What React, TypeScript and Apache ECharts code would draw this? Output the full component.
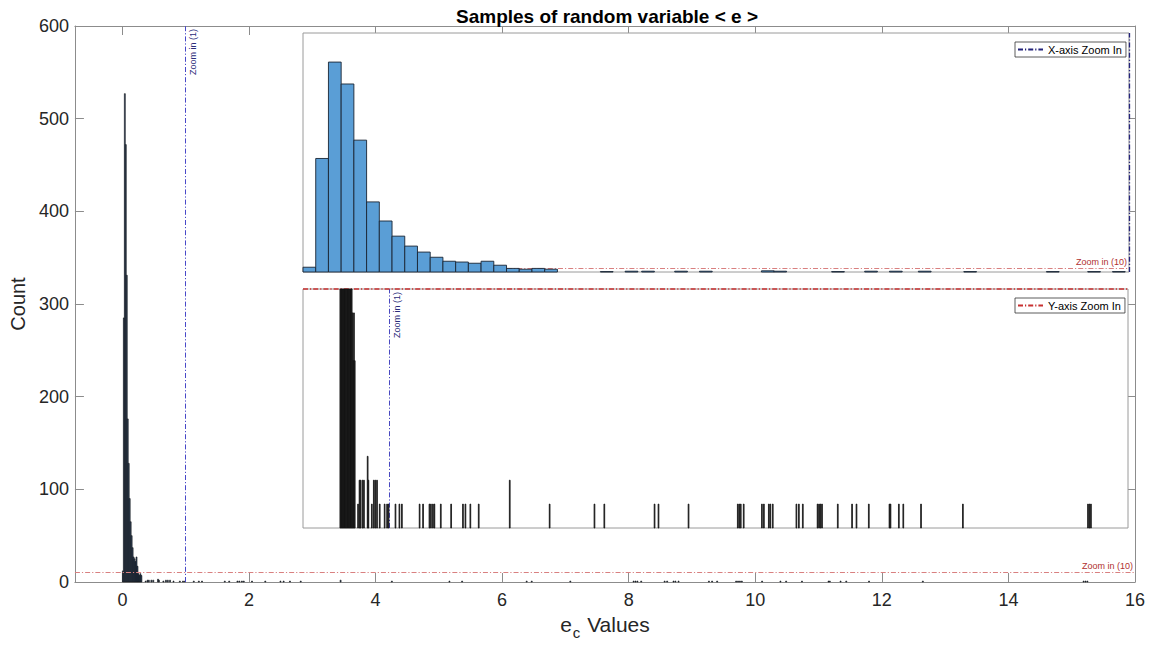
import React, { useEffect, useRef } from "react";
import * as echarts from "echarts";

// ---------- data ----------
const BIN_WIDTH = 0.0154;
// counts of the first bins starting at x = 0
const peakCounts = [12, 285, 527, 472, 331, 176, 128, 90, 65, 50, 37, 27, 25, 22, 27, 17, 9, 7, 9, 7];
// sparse tail bins: left edge and count
const tailStarts = [
  0.36, 0.39, 0.41, 0.45, 0.48, 0.555, 0.57, 0.64, 0.68, 0.71, 0.745, 0.8, 0.9, 0.95, 0.98,
  1.12, 1.2, 1.25, 1.61, 1.68, 1.81, 1.84, 1.88, 1.91, 2.04, 2.25, 2.49, 2.54, 2.64, 2.81,
  3.44, 4.25, 5.16, 5.36, 6.38, 6.46, 7.07, 8.07, 8.1, 8.13, 8.19, 8.56, 8.6, 8.7, 8.73, 8.78,
  9.26, 9.31, 9.39, 9.69, 9.72, 9.75, 9.78, 10.1, 10.39, 10.48, 10.73, 11.15, 11.17, 11.34,
  11.43, 11.79, 12.64, 15.18, 15.21, 15.24,
];
const tailCounts = [
  1, 2, 2, 2, 2, 3, 2, 1, 2, 2, 2, 1, 1, 1, 1,
  1, 1, 1, 1, 1, 1, 1, 1, 1, 1, 1, 1, 1, 1, 1,
  2, 1, 1, 1, 1, 1, 1, 1, 1, 1, 1, 1, 1, 1, 1, 1,
  1, 1, 1, 1, 1, 1, 1, 1, 1, 1, 1, 1, 1, 1,
  1, 1, 1, 1, 1, 1,
];
const ZOOM_X = 1;
const ZOOM_Y = 10;
const MAIN_X = [-0.75, 16];
const MAIN_Y = [0, 600];
const INSET_X = [0, 1];
const INSET_Y = [0, 10];

const TITLE = "Samples of random variable < e >";
const FONT = "'Liberation Sans', Arial, Helvetica, sans-serif";

const histData: number[][] = [
  ...peakCounts.map((c, i) => [i * BIN_WIDTH, c]),
  ...tailStarts.map((x, i) => [x, tailCounts[i]]),
];

const DASHDOT = [5, 2, 1.2, 2];

function makeRender(style: any) {
  return (params: any, api: any) => {
    const x0 = api.value(0);
    const c = api.value(1);
    const p0 = api.coord([x0, c]);
    const p1 = api.coord([x0 + BIN_WIDTH, 0]);
    const cs = params.coordSys;
    const rect = echarts.graphic.clipRectByRect(
      { x: p0[0], y: p0[1], width: p1[0] - p0[0], height: p1[1] - p0[1] },
      { x: cs.x, y: cs.y, width: cs.width, height: cs.height }
    );
    if (!rect || rect.width <= 0) return null;
    return { type: "rect", shape: rect, style };
  };
}

export default function App() {
  const ref = useRef<HTMLDivElement>(null);
  useEffect(() => {
    if (!ref.current) return;
    const chart = echarts.init(ref.current, undefined, { renderer: "svg" });
    const axisGrey = "#8c8c8c";
    const textCol = "#262626";
    const hiddenAxis = (gridIndex: number, range: number[]) => ({
      type: "value",
      gridIndex,
      min: range[0],
      max: range[1],
      show: false,
      splitLine: { show: false },
    });
    const legendBase = {
      orient: "horizontal",
      itemWidth: 25,
      itemHeight: 10,
      padding: [2, 4, 2, 2],
      borderColor: "#333",
      borderWidth: 0.8,
      backgroundColor: "#fff",
      borderRadius: 0,
      selectedMode: false,
      itemStyle: { opacity: 0 },
      textStyle: { fontSize: 11, color: "#000", fontFamily: FONT },
    };
    chart.setOption({
      animation: false,
      backgroundColor: "#fff",
      textStyle: { fontFamily: FONT },
      title: {
        text: TITLE,
        left: 602,
        top: 2,
        textAlign: "center",
        textStyle: { fontSize: 19, fontWeight: "bold", color: "#000", fontFamily: FONT },
      },
      legend: [
        { ...legendBase, data: ["X-axis Zoom In"], left: 1015, top: 42 },
        { ...legendBase, data: ["Y-axis Zoom In"], left: 1015, top: 298 },
      ],
      grid: [
        { left: 69, top: 26, width: 1066, height: 556, show: false },
        { left: 303, top: 33, width: 826, height: 239, show: true, backgroundColor: "#fff", borderColor: "#9a9a9a", borderWidth: 1, z: 3 },
        { left: 303, top: 289, width: 825, height: 239, show: true, backgroundColor: "#fff", borderColor: "#9a9a9a", borderWidth: 1, z: 3 },
      ],
      xAxis: [
        {
          type: "value",
          gridIndex: 0,
          min: MAIN_X[0],
          max: MAIN_X[1],
          splitNumber: 8,
          axisLine: { show: true, onZero: false, lineStyle: { color: axisGrey } },
          axisTick: { show: true, inside: true, length: 9, lineStyle: { color: axisGrey } },
          axisLabel: {
            color: textCol,
            fontSize: 18,
            margin: 9,
            fontFamily: FONT,
            formatter: (v: number) => (Number.isInteger(v) ? String(v) : ""),
          },
          splitLine: { show: false },
          name: "{e|e}{c|c}{v| Values}",
          nameLocation: "middle",
          nameGap: 21,
          nameTextStyle: {
            color: textCol,
            fontSize: 21,
            fontFamily: FONT,
            rich: {
              e: { fontSize: 21, color: textCol, fontFamily: FONT },
              c: { fontSize: 15, color: textCol, fontFamily: FONT, padding: [17, 1, 0, 1] },
              v: { fontSize: 21, color: textCol, fontFamily: FONT },
            },
          },
        },
        {
          type: "value",
          gridIndex: 0,
          position: "top",
          min: MAIN_X[0],
          max: MAIN_X[1],
          splitNumber: 8,
          axisLine: { show: true, onZero: false, lineStyle: { color: axisGrey } },
          axisTick: { show: true, inside: true, length: 9, lineStyle: { color: axisGrey } },
          axisLabel: { show: false },
          splitLine: { show: false },
        },
        hiddenAxis(1, INSET_X),
        hiddenAxis(2, MAIN_X),
      ],
      yAxis: [
        {
          type: "value",
          gridIndex: 0,
          min: MAIN_Y[0],
          max: MAIN_Y[1],
          interval: 100,
          axisLine: { show: true, onZero: false, lineStyle: { color: axisGrey } },
          axisTick: { show: true, inside: true, length: 9, lineStyle: { color: axisGrey } },
          axisLabel: { color: textCol, fontSize: 18, margin: 6, fontFamily: FONT },
          splitLine: { show: false },
          name: "Count",
          nameLocation: "middle",
          nameGap: 34,
          nameTextStyle: { color: textCol, fontSize: 20, fontFamily: FONT },
        },
        {
          type: "value",
          gridIndex: 0,
          position: "right",
          min: MAIN_Y[0],
          max: MAIN_Y[1],
          interval: 100,
          axisLine: { show: true, onZero: false, lineStyle: { color: axisGrey } },
          axisTick: { show: true, inside: true, length: 9, lineStyle: { color: axisGrey } },
          axisLabel: { show: false },
          splitLine: { show: false },
        },
        hiddenAxis(1, MAIN_Y),
        hiddenAxis(2, INSET_Y),
      ],
      series: [
        {
          type: "custom",
          name: "main",
          xAxisIndex: 0,
          yAxisIndex: 0,
          data: histData,
          renderItem: makeRender({ fill: "#2f4d73", stroke: "#101010", lineWidth: 0.6 }),
          z: 2,
          markLine: {
            silent: true,
            symbol: ["none", "none"],
            animation: false,
            data: [
              {
                xAxis: ZOOM_X,
                lineStyle: { color: "#4848c8", type: DASHDOT, width: 1 },
                label: { show: true, formatter: "Zoom in (1)", position: "insideEndBottom", color: "#2b2b7a", fontSize: 9, fontFamily: FONT, distance: 3 },
              },
              {
                yAxis: ZOOM_Y,
                lineStyle: { color: "#d98080", type: DASHDOT, width: 1 },
                label: { show: true, formatter: "Zoom in (10)", position: "insideEndTop", color: "#b03030", fontSize: 9, fontFamily: FONT, distance: 2 },
              },
            ],
          },
        },
        {
          type: "custom",
          name: "inset1",
          xAxisIndex: 2,
          yAxisIndex: 2,
          data: histData,
          renderItem: makeRender({ fill: "#5a9ed6", stroke: "#1a2533", lineWidth: 0.9 }),
          z: 5,
          markLine: {
            silent: true,
            symbol: ["none", "none"],
            animation: false,
            data: [
              {
                yAxis: ZOOM_Y,
                lineStyle: { color: "#d98080", type: DASHDOT, width: 1 },
                label: { show: true, formatter: "Zoom in (10)", position: "insideEndTop", color: "#b03030", fontSize: 9, fontFamily: FONT, distance: 2 },
              },
            ],
          },
        },
        {
          type: "line",
          name: "X-axis Zoom In",
          xAxisIndex: 2,
          yAxisIndex: 2,
          data: [],
          symbol: "none",
          color: "#23237a",
          lineStyle: { color: "#23237a", type: DASHDOT, width: 1.3 },
          z: 6,
          markLine: {
            silent: true,
            symbol: ["none", "none"],
            animation: false,
            label: { show: false },
            data: [{ xAxis: ZOOM_X, lineStyle: { color: "#23237a", type: DASHDOT, width: 1.3 } }],
          },
        },
        {
          type: "custom",
          name: "inset2",
          xAxisIndex: 3,
          yAxisIndex: 3,
          data: histData,
          renderItem: makeRender({ fill: "#333", stroke: "#111", lineWidth: 0.8 }),
          z: 5,
          markLine: {
            silent: true,
            symbol: ["none", "none"],
            animation: false,
            data: [
              {
                xAxis: ZOOM_X,
                lineStyle: { color: "#4848c0", type: DASHDOT, width: 1 },
                label: { show: true, formatter: "Zoom in (1)", position: "insideEndBottom", color: "#2b2b7a", fontSize: 9, fontFamily: FONT, distance: 3 },
              },
            ],
          },
        },
        {
          type: "line",
          name: "Y-axis Zoom In",
          xAxisIndex: 3,
          yAxisIndex: 3,
          data: [],
          symbol: "none",
          color: "#c83030",
          lineStyle: { color: "#c83030", type: DASHDOT, width: 1.5 },
          z: 6,
          markLine: {
            silent: true,
            symbol: ["none", "none"],
            animation: false,
            label: { show: false },
            data: [{ yAxis: ZOOM_Y, lineStyle: { color: "#c83030", type: DASHDOT, width: 1.5 } }],
          },
        },
      ],
    });
    return () => chart.dispose();
  }, []);
  return (
    <div
      ref={ref}
      style={{ position: "fixed", left: 0, top: 0, width: 1153, height: 648, background: "#fff" }}
    />
  );
}
